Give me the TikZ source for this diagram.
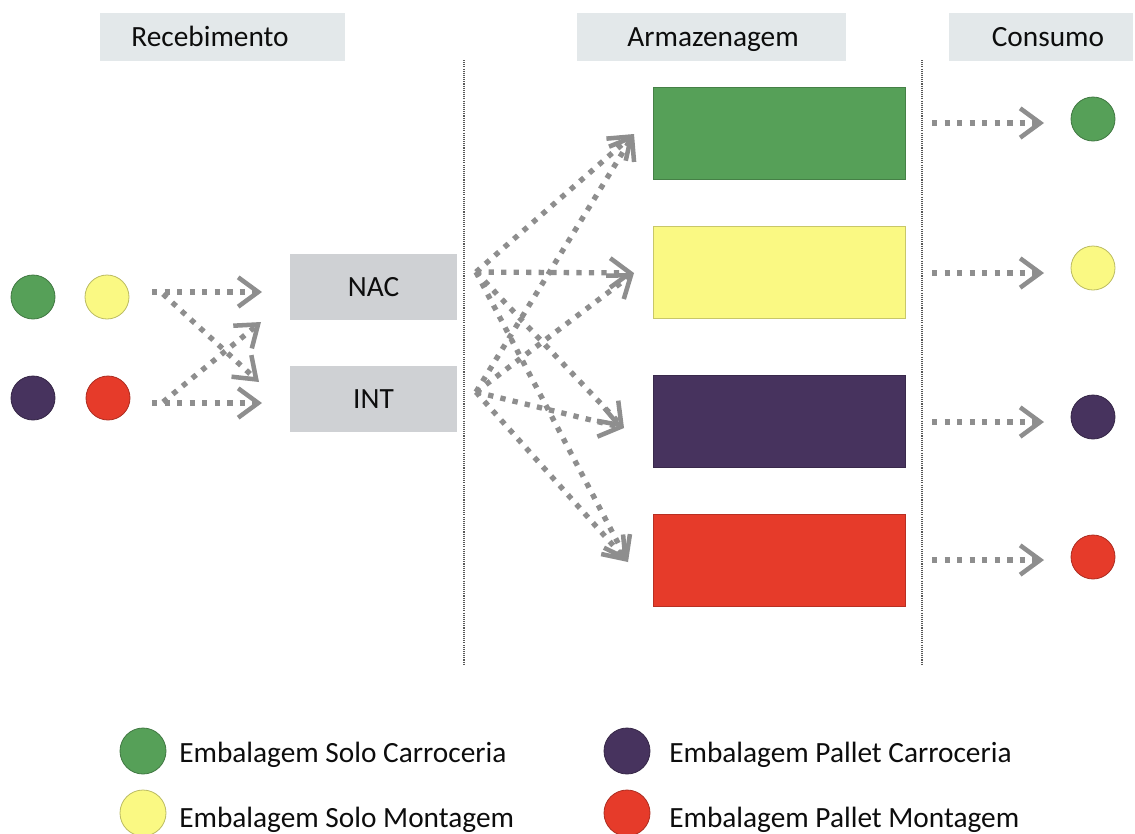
\documentclass[tikz,border=0pt]{standalone}
\usepackage{fontspec}
\setmainfont{Carlito}
\usetikzlibrary{arrows.meta}

\definecolor{cgreen}{HTML}{56A058}
\definecolor{cyellow}{HTML}{FAF983}
\definecolor{cpurple}{HTML}{47335E}
\definecolor{cred}{HTML}{E63B2A}
\definecolor{headfill}{HTML}{E3E8EA}
\definecolor{boxfill}{HTML}{CFD1D4}
\definecolor{arrowgray}{HTML}{8E8E8E}
\definecolor{txt}{HTML}{0D0D0D}

\tikzset{
  lbl/.style={font=\fontsize{22}{26}\selectfont, text=txt, inner sep=0pt},
  headbox/.style={fill=headfill, draw=none, minimum height=48*0.75pt},
  originbox/.style={fill=boxfill, draw=none, minimum width=167*0.75pt, minimum height=66*0.75pt,
    font=\fontsize{22}{26}\selectfont, text=txt},
  store/.style={fill=#1, draw=#1!80!black, line width=0.6pt, minimum width=252*0.75pt, minimum height=92*0.75pt},
  dot/.style={circle, fill=#1, draw=#1!75!black, line width=0.6pt, minimum size=44*0.75pt, inner sep=0pt},
  keydot/.style={circle, fill=#1, draw=#1!75!black, line width=0.6pt, minimum size=46*0.75pt, inner sep=0pt},
  flow/.style={draw=arrowgray, line width=4pt, dash pattern=on 4pt off 5.4pt,
    -{Straight Barb[length=15pt, width=22pt, line width'=3.4pt]}},
  divider/.style={draw=black!65, line width=1pt, dash pattern=on 0.8pt off 0.8pt}
}

\begin{document}
\begin{tikzpicture}[x=0.75pt, y=-0.75pt]
\useasboundingbox (0,0) rectangle (1135,833);

% column headings
\node[headbox, minimum width=245*0.75pt] (hrec) at (222.5,37) {};
\node[lbl, anchor=base] (trec) at (210,46) {Recebimento};
\node[headbox, minimum width=269*0.75pt] (harm) at (711.5,37) {};
\node[lbl, anchor=base] (tarm) at (713,46) {Armazenagem};
\node[headbox, minimum width=184*0.75pt] (hcon) at (1041,37) {};
\node[lbl, anchor=base] (tcon) at (1048,46) {Consumo};

% section dividers
\coordinate (d1t) at (464,60);
\coordinate (d1b) at (464,665);
\coordinate (d2t) at (922,60);
\coordinate (d2b) at (922,665);
\draw[divider] (d1t) -- (d1b);
\draw[divider] (d2t) -- (d2b);

% incoming packages
\node[dot=cgreen]  (ing) at (33,297) {};
\node[dot=cyellow] (iny) at (107,297) {};
\node[dot=cpurple] (inp) at (33,398) {};
\node[dot=cred]    (inr) at (108,398) {};

% origin boxes
\node[originbox] (nac) at (373.5,287) {NAC};
\node[originbox] (int) at (373.5,399) {INT};

% receiving arrows
\coordinate (la1) at (152,292);
\coordinate (la2) at (262,292);
\coordinate (lb1) at (152,403);
\coordinate (lb2) at (262,403);
\coordinate (lc1) at (163,294);
\coordinate (lc2) at (259,382);
\coordinate (ld1) at (163,402);
\coordinate (ld2) at (261,322);
\draw[flow] (la1) -- (la2);
\draw[flow] (lb1) -- (lb2);
\draw[flow] (lc1) -- (lc2);
\draw[flow] (ld1) -- (ld2);

% storage areas
\node[store=cgreen]  (sg) at (779,133) {};
\node[store=cyellow] (sy) at (779,272.5) {};
\node[store=cpurple] (sp) at (779,421.5) {};
\node[store=cred]    (sr) at (779,560) {};

% distribution arrows from NAC and INT to storage
\coordinate (fromnac) at (476,272);
\coordinate (fromint) at (476,392);
\coordinate (tog) at (634,134);
\coordinate (toy) at (634,273);
\coordinate (top) at (624,428);
\coordinate (tor) at (628,562);
\foreach \src in {fromnac,fromint}
  \foreach \dst in {tog,toy,top,tor}
    \draw[flow] (\src) -- (\dst);

% consumption
\node[dot=cgreen]  (cg) at (1093,119) {};
\node[dot=cyellow] (cy) at (1093,268) {};
\node[dot=cpurple] (cp) at (1093,417) {};
\node[dot=cred]    (cr) at (1093,557) {};
\foreach \y/\n in {123/g,273/y,422/p,560/r}{
  \coordinate (ca\n) at (932,\y);
  \coordinate (cb\n) at (1044,\y);
  \draw[flow] (ca\n) -- (cb\n);
}

% legend
\node[keydot=cgreen]  (kg) at (143,751) {};
\node[keydot=cyellow] (ky) at (143,813) {};
\node[keydot=cpurple] (kp) at (627,751) {};
\node[keydot=cred]    (kr) at (627,813) {};
\node[lbl, anchor=base west] (tkg) at (179,762) {Embalagem Solo Carroceria};
\node[lbl, anchor=base west] (tky) at (179,827) {Embalagem Solo Montagem};
\node[lbl, anchor=base west] (tkp) at (669,762) {Embalagem Pallet Carroceria};
\node[lbl, anchor=base west] (tkr) at (669,827) {Embalagem Pallet Montagem};
\end{tikzpicture}
\end{document}
